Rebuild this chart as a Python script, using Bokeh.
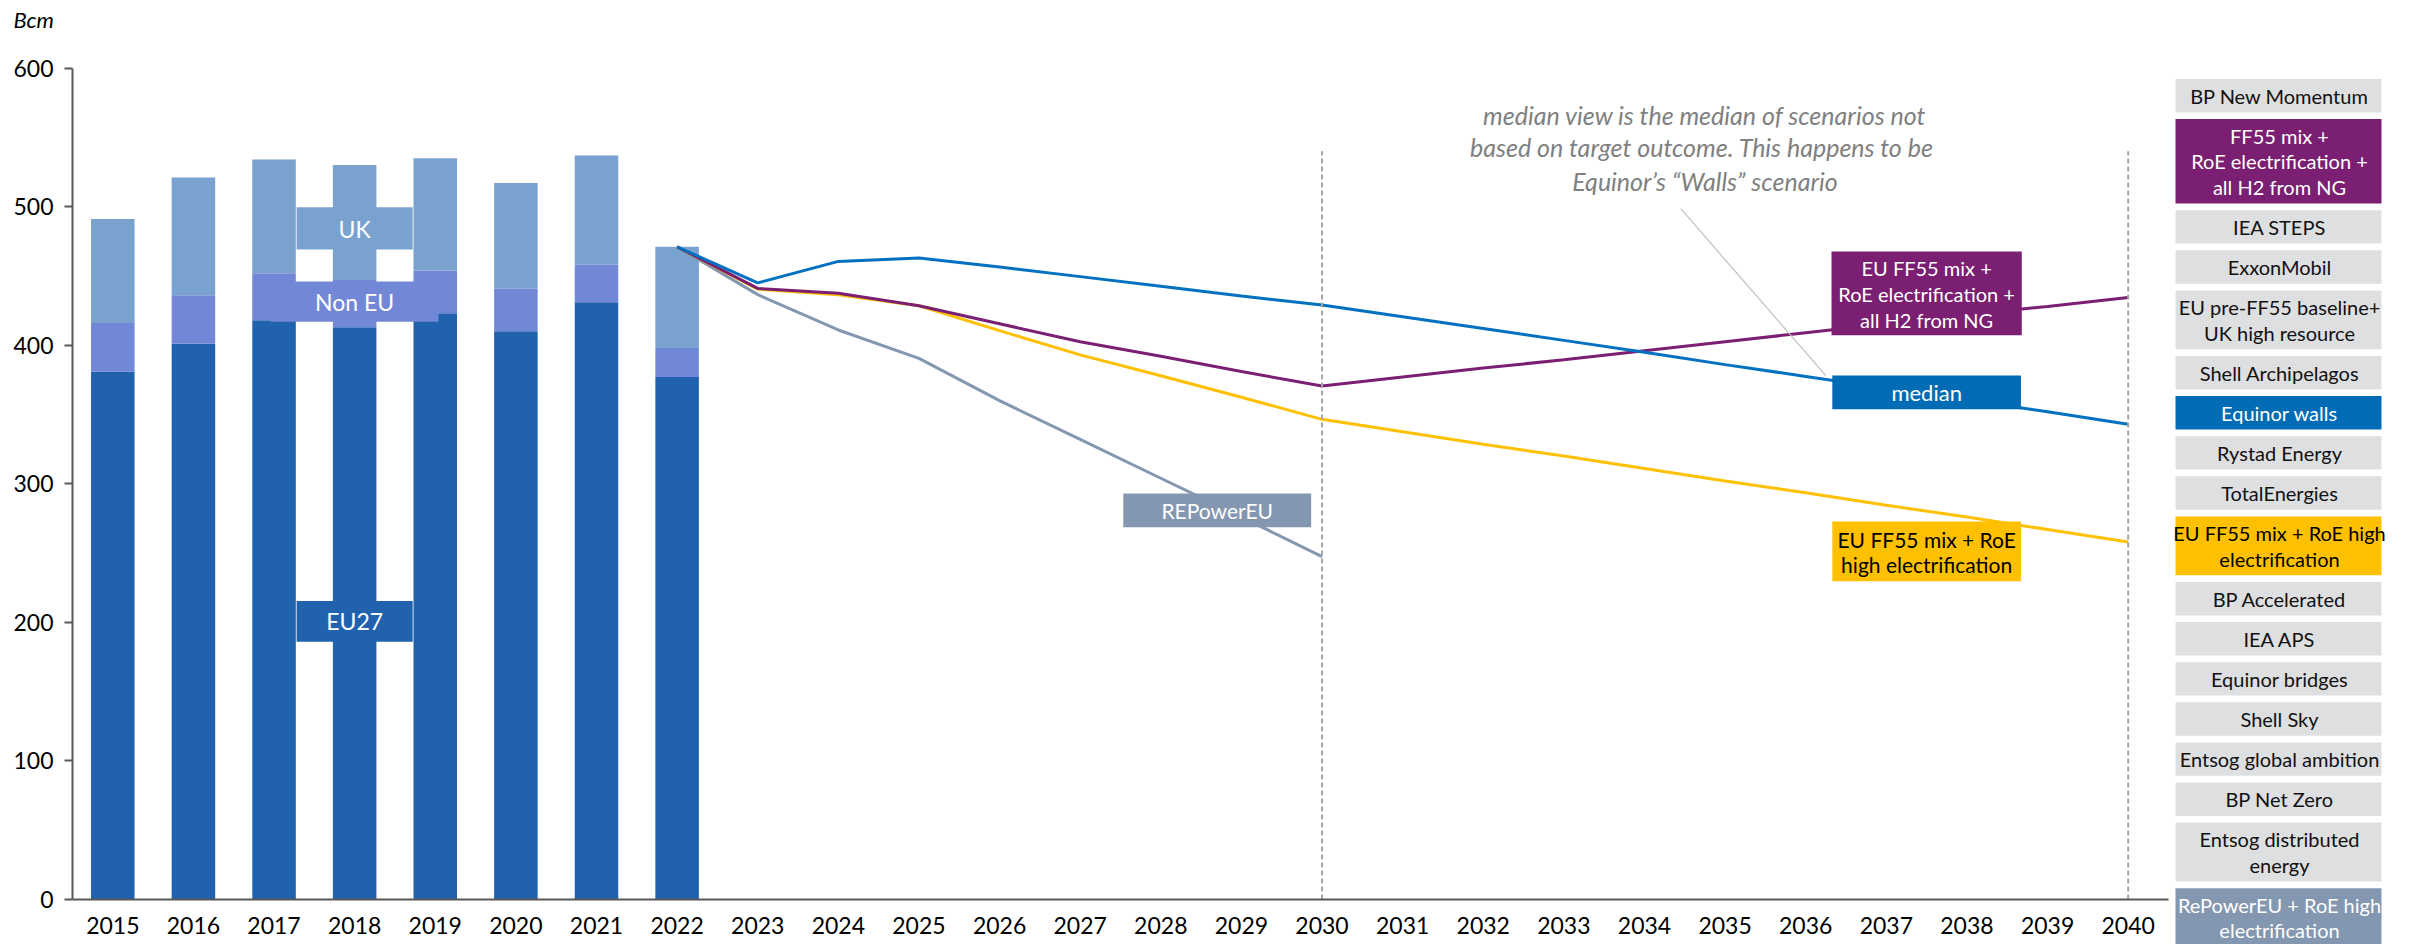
from bokeh.plotting import figure
from bokeh.models import Range1d, FixedTicker, Label, ColumnDataSource
from bokeh.embed import file_html
from bokeh.resources import INLINE
from bokeh.core.properties import value

# ---------------- data ----------------
all_years = [str(y) for y in range(2015, 2041)]

hist_years = ["2015", "2016", "2017", "2018", "2019", "2020", "2021", "2022"]
eu27 = [381, 401, 418, 413, 423, 410, 431, 377]
non_eu = [35, 35, 34, 34, 31, 31, 27, 21]
uk = [75, 85, 82, 83, 81, 76, 79, 73]

proj_years = [str(y) for y in range(2022, 2041)]
median_walls = [471, 445, 460.5, 463, 456.5, 449.5, 442.5, 435.5, 429,
                420.5, 412, 403.5, 395, 386, 377.5, 369, 360.5, 352, 343]
ff55_h2_ng = [471, 441, 437.5, 428.5, 415.5, 402.5, 392, 381, 370.5,
              377, 383.5, 389.5, 396, 402.5, 409, 415.5, 422, 428, 434.5]
ff55_high_elec = [471, 440.5, 436.5, 428.5, 410.5, 393, 378, 362.5, 346.5,
                  337.5, 328.5, 320, 311, 302, 293.5, 284.5, 276, 267, 258]
repower_years = ["2022", "2023", "2024", "2025", "2026", "2027", "2028", "2029", "2030"]
repower = [471, 436.5, 411, 390.5, 360, 332, 304, 276, 247.5]

marker_years = ["2030", "2040"]
y_ticks = [0, 100, 200, 300, 400, 500, 600]

legend_labels = [
    "BP New Momentum",
    "FF55 mix +\nRoE electrification +\nall H2 from NG",
    "IEA STEPS",
    "ExxonMobil",
    "EU pre-FF55 baseline+\nUK high resource",
    "Shell Archipelagos",
    "Equinor walls",
    "Rystad Energy",
    "TotalEnergies",
    "EU FF55 mix + RoE high\nelectrification",
    "BP Accelerated",
    "IEA APS",
    "Equinor bridges",
    "Shell Sky",
    "Entsog global ambition",
    "BP Net Zero",
    "Entsog distributed\nenergy",
    "RePowerEU + RoE high\nelectrification",
]

# ---------------- styles / layout ----------------
FONT = "Lato"
C_EU27 = "#2062AE"
C_NONEU = "#7288D6"
C_UK = "#7AA2CF"
C_MED = "#0070C0"
C_MED_BOX = "#006CB5"
C_PURPLE = "#7A1F72"
C_YELLOW = "#FFC000"
C_GREY = "#8497B0"
C_LEG = "#DEDFE1"
C_AXIS = "#595959"

special = {
    "FF55 mix +\nRoE electrification +\nall H2 from NG": (C_PURPLE, "white"),
    "Equinor walls": (C_MED_BOX, "white"),
    "EU FF55 mix + RoE high\nelectrification": (C_YELLOW, "black"),
    "RePowerEU + RoE high\nelectrification": (C_GREY, "white"),
}

W, H = 2410, 944
PX_LEFT = 72          # y-axis position
PX_PER_CAT = 80.615   # width of one year slot
PX_ZERO = 899         # y = 0
PX_PER_UNIT = 1.3857  # pixels per bcm

def sx(px):
    return (px - PX_LEFT) / PX_PER_CAT

def vy(py):
    return (PX_ZERO - py) / PX_PER_UNIT

def pos(year):
    return all_years.index(year) + 0.5

# ---------------- figure ----------------
p = figure(x_range=Range1d(sx(0), sx(W)), y_range=Range1d(vy(H), vy(0)),
           width=W, height=H, min_border_left=0, min_border_right=0,
           min_border_top=0, min_border_bottom=0,
           output_backend="svg", toolbar_location=None)
p.outline_line_color = None
p.grid.visible = False
p.background_fill_color = "white"
p.border_fill_color = "white"

src = ColumnDataSource(dict(x=[pos(y) for y in hist_years], eu27=eu27, non_eu=non_eu, uk=uk))
p.vbar_stack(["eu27", "non_eu", "uk"], x="x", width=0.54, source=src,
             color=[C_EU27, C_NONEU, C_UK], line_color=None)

# series label boxes on bars
c18 = pos("2018")
p.quad(left=[c18 - 0.72], right=[c18 + 0.72], bottom=[469], top=[499.5], fill_color=C_UK, line_color=None)
p.quad(left=[c18 - 1.04], right=[c18 + 1.04], bottom=[417], top=[446], fill_color=C_NONEU, line_color=None)
p.quad(left=[c18 - 0.72], right=[c18 + 0.72], bottom=[186], top=[215.5], fill_color=C_EU27, line_color=None)

def lab(x, y, t, color, size="20px", style="normal", align="center"):
    p.add_layout(Label(x=x, y=y, text=t, text_align=align, text_baseline="middle",
                       text_color=color, text_font=FONT, text_font_size=size,
                       text_font_style=style))

for txt, yy in [("UK", 484), ("Non EU", 431.5), ("EU27", 201)]:
    lab(c18, yy, txt, "white", size="23px")

# scenario lines
p.line([pos(y) for y in repower_years], repower, line_color=C_GREY, line_width=3)
p.line([pos(y) for y in proj_years], ff55_high_elec, line_color=C_YELLOW, line_width=3)
p.line([pos(y) for y in proj_years], ff55_h2_ng, line_color=C_PURPLE, line_width=3)
p.line([pos(y) for y in proj_years], median_walls, line_color=C_MED, line_width=3)

# vertical dashed markers
mx = [pos(y) for y in marker_years]
p.segment(x0=mx, y0=[0, 0], x1=mx, y1=[540, 540],
          line_color="#A6A6A6", line_width=2, line_dash="5 3")

# leader line for the note
p.line([19.95, 21.75], [498.5, 378], line_color="#BFBFBF", line_width=1.2)

# scenario label boxes
c_rp = 14.2
p.quad(left=[c_rp - 1.165], right=[c_rp + 1.165], bottom=[268.7], top=[293], fill_color=C_GREY, line_color=None)
c_r = 23.0
p.quad(left=[c_r - 1.18], right=[c_r + 1.18], bottom=[407.2], top=[467.6], fill_color=C_PURPLE, line_color=None)
p.quad(left=[c_r - 1.17], right=[c_r + 1.17], bottom=[353.8], top=[378.1], fill_color=C_MED_BOX, line_color=None)
p.quad(left=[c_r - 1.17], right=[c_r + 1.17], bottom=[229.7], top=[272.8], fill_color=C_YELLOW, line_color=None)

lab(c_rp, 281, "REPowerEU", "white", size="21px")
for t, yy in [("EU FF55 mix +", 455.5), ("RoE electrification +", 437.3), ("all H2 from NG", 418.5)]:
    lab(c_r, yy, t, "white")
lab(c_r, 366, "median", "white", size="22px")
for t, yy in [("EU FF55 mix + RoE", 260), ("high electrification", 242)]:
    lab(c_r, yy, t, "black", size="21px")

for t, yy in [("median view is the median of scenarios not", 566.5),
              ("based on target outcome.  This happens to be", 542.7),
              ("Equinor\u2019s \u201cWalls\u201d scenario", 518.2)]:
    lab(20.25, yy, t, "#808080", size="25px", style="italic")

lab(sx(13), vy(19), "Bcm", "black", size="22px", style="italic", align="left")

# ---------------- legend panel (right) ----------------
top = 78.5
single_h, line_h, gap = 33.4, 25.5, 6.7
lefts, rights, tops, bottoms, fills = [], [], [], [], []
tx, ty, tt, tc = [], [], [], []
for lbl in legend_labels:
    lines = lbl.split("\n")
    h = single_h + (len(lines) - 1) * line_h
    fill, tcol = special.get(lbl, (C_LEG, "#111111"))
    lefts.append(sx(2175)); rights.append(sx(2381))
    tops.append(vy(top)); bottoms.append(vy(top + h)); fills.append(fill)
    mid = top + h / 2
    for i, ln in enumerate(lines):
        tx.append(sx(2279))
        ty.append(vy(mid + (i - (len(lines) - 1) / 2) * line_h))
        tt.append(ln)
        tc.append(tcol)
    top += h + gap

p.quad(left=lefts, right=rights, top=tops, bottom=bottoms, fill_color=fills, line_color=None)
p.text(x=tx, y=ty, text=tt, text_color=tc, text_align="center", text_baseline="middle",
       text_font=value(FONT), text_font_size="20px")

# ---------------- axes ----------------
p.yaxis.ticker = FixedTicker(ticks=y_ticks)
p.yaxis.bounds = (0, 600)
p.yaxis.fixed_location = 0
p.yaxis.major_tick_out = 8
p.yaxis.major_tick_in = 0
p.yaxis.minor_tick_line_color = None
p.yaxis.axis_line_color = C_AXIS
p.yaxis.axis_line_width = 2
p.yaxis.major_tick_line_color = C_AXIS
p.yaxis.major_tick_line_width = 2
p.yaxis.major_label_standoff = 11
p.yaxis.major_label_text_font = FONT
p.yaxis.major_label_text_font_size = "23px"
p.yaxis.major_label_text_color = "black"

x_ticks = [pos(y) for y in all_years]
p.xaxis.ticker = FixedTicker(ticks=x_ticks)
p.xaxis.major_label_overrides = {t: y for t, y in zip(x_ticks, all_years)}
p.xaxis.bounds = (0, len(all_years))
p.xaxis.fixed_location = 0
p.xaxis.major_tick_out = 0
p.xaxis.major_tick_in = 0
p.xaxis.major_tick_line_color = None
p.xaxis.minor_tick_line_color = None
p.xaxis.axis_line_color = C_AXIS
p.xaxis.axis_line_width = 2
p.xaxis.major_label_standoff = 17
p.xaxis.major_label_text_font = FONT
p.xaxis.major_label_text_font_size = "23px"
p.xaxis.major_label_text_color = "black"

open("out.html", "w").write(file_html(p, INLINE))
